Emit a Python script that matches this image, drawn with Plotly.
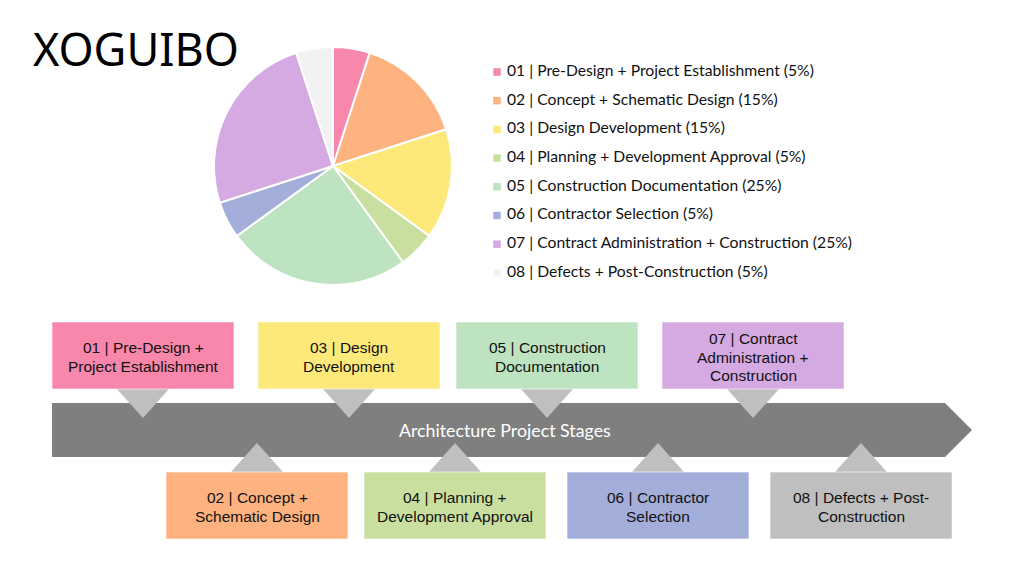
import plotly.graph_objects as go

# ---- data ----
stages = [
    "01 | Pre-Design + Project Establishment",
    "02 | Concept + Schematic Design",
    "03 | Design Development",
    "04 | Planning + Development Approval",
    "05 | Construction Documentation",
    "06 | Contractor Selection",
    "07 | Contract Administration + Construction",
    "08 | Defects + Post-Construction",
]
shares = [5, 15, 15, 5, 25, 5, 25, 5]
box_labels = [
    "01 | Pre-Design +<br>Project Establishment",
    "02 | Concept +<br>Schematic Design",
    "03 | Design<br>Development",
    "04 | Planning +<br>Development Approval",
    "05 | Construction<br>Documentation",
    "06 | Contractor<br>Selection",
    "07 | Contract<br>Administration +<br>Construction",
    "08 | Defects + Post-<br>Construction",
]
title_text = "XOGUIBO"
band_text = "Architecture Project Stages"

# ---- styles / layout ----
pie_colors = ["#F986AB", "#FDB27F", "#FDE97A", "#C9DF9F", "#BDE3C0", "#A3AEDB", "#D5A9E1", "#F2F2F2"]
box_colors = ["#F986AB", "#FDB27F", "#FDE97A", "#C9DF9F", "#BDE3C0", "#A3AEDB", "#D5A9E1", "#BFBFBF"]
W, H = 1024, 575
box_left = [52, 166, 258, 364, 456, 567, 662, 770]
box_w, box_h = 182, 67
top_y, bot_y = 322, 472
tri_half, tri_h = 26, 29
line_gap = 18.5
band = dict(x0=52, x1=945, tip=972, y0=403, y1=457)
legend_x, legend_y0, legend_dy = 497, 72, 28.7

fig = go.Figure()

# pie
cx, cy, r = 333, 166, 119
fig.add_trace(go.Pie(
    values=shares, labels=stages, sort=False, direction="clockwise", rotation=0,
    marker=dict(colors=pie_colors, line=dict(color="white", width=2)),
    textinfo="none", hoverinfo="label+percent", showlegend=False,
    domain=dict(x=[(cx - r) / W, (cx + r) / W], y=[1 - (cy + r) / H, 1 - (cy - r) / H]),
))

# legend (manual)
ly = [legend_y0 + i * legend_dy for i in range(len(stages))]
fig.add_trace(go.Scatter(
    x=[legend_x] * len(stages), y=ly, mode="markers",
    marker=dict(symbol="square", size=7.5, color=pie_colors, line=dict(width=0)),
    hoverinfo="skip", showlegend=False,
))
fig.add_trace(go.Scatter(
    x=[legend_x + 10] * len(stages), y=ly, mode="text",
    text=[f"{s} ({p}%)" for s, p in zip(stages, shares)],
    textposition="middle right",
    textfont=dict(family="Lato", size=15.7, color="#111111"),
    hoverinfo="skip", showlegend=False,
))

shapes = []
# band arrow
shapes.append(dict(
    type="path", xref="x", yref="y", layer="below",
    path=f"M{band['x0']},{band['y0']} L{band['x1']},{band['y0']} L{band['tip']},{(band['y0']+band['y1'])/2} "
         f"L{band['x1']},{band['y1']} L{band['x0']},{band['y1']} Z",
    fillcolor="#7F7F7F", line=dict(width=0),
))
annotations = []
for i, (lab, col) in enumerate(zip(box_labels, box_colors)):
    x0 = box_left[i]
    xc = x0 + box_w / 2
    if i % 2 == 0:
        y0 = top_y
        y1 = y0 + box_h
        tri = f"M{xc - tri_half},{y1} L{xc + tri_half},{y1} L{xc},{y1 + tri_h} Z"
    else:
        y0 = bot_y
        y1 = y0 + box_h
        tri = f"M{xc - tri_half},{y0} L{xc + tri_half},{y0} L{xc},{y0 - tri_h} Z"
    shapes.append(dict(type="path", xref="x", yref="y", layer="below", path=tri,
                       fillcolor="#BFBFBF", line=dict(width=0)))
    shapes.append(dict(type="rect", xref="x", yref="y", layer="below",
                       x0=x0, x1=x0 + box_w, y0=y0, y1=y1,
                       fillcolor=col, line=dict(color="rgba(255,255,255,0.6)", width=1)))
    lines = lab.split("<br>")
    ymid = (y0 + y1) / 2 + 1.5
    for k, ln in enumerate(lines):
        yy = ymid + (k - (len(lines) - 1) / 2) * line_gap
        annotations.append(dict(x=xc, y=yy, xref="x", yref="y", text=ln, showarrow=False,
                                font=dict(family="Liberation Sans", size=15.5, color="#111111"),
                                align="center"))

annotations.append(dict(x=(band['x0'] + band['tip']) / 2 - 7, y=(band['y0'] + band['y1']) / 2, xref="x", yref="y",
                        text=band_text, showarrow=False,
                        font=dict(family="Lato", size=17.8, color="white")))
annotations.append(dict(x=31, y=48, xref="x", yref="y", text=title_text, showarrow=False,
                        xanchor="left", yanchor="middle",
                        font=dict(family="Noto Sans", size=45, color="black")))

fig.update_layout(
    width=W, height=H, margin=dict(l=0, r=0, t=0, b=0),
    paper_bgcolor="white", plot_bgcolor="white",
    xaxis=dict(range=[0, W], visible=False, fixedrange=True),
    yaxis=dict(range=[H, 0], visible=False, fixedrange=True),
    shapes=shapes, annotations=annotations, showlegend=False,
)
fig.write_html("out.html", config={"displayModeBar": False},
               post_script="document.body.style.margin='0';")
